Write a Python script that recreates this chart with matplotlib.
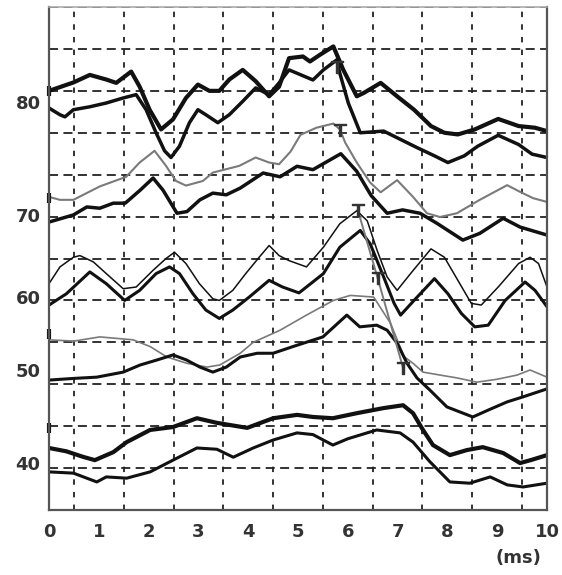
import matplotlib
matplotlib.use('Agg')
import matplotlib.pyplot as plt
import numpy as np

# trace data: x in ms, y in grid units (0-12)
a_x = [0, 0.49, 0.82, 1.15, 1.35, 1.65, 1.82, 2.02, 2.25, 2.49, 2.75, 2.99, 3.22, 3.42, 3.62, 3.89, 4.15, 4.42, 4.62, 4.82,
       5.1, 5.24, 5.44, 5.71, 5.91, 6.18, 6.32, 6.66, 6.99, 7.33, 7.67, 7.94, 8.21, 8.55, 9.02, 9.43, 9.76, 10.0]
a_y = [10.0, 10.2, 10.38, 10.27, 10.19, 10.46, 10.1, 9.55, 9.08, 9.32, 9.83, 10.15, 10.0, 10.0, 10.27, 10.5, 10.23, 9.87, 10.1, 10.78,
       10.82, 10.7, 10.86, 11.06, 10.5, 9.87, 9.95, 10.19, 9.87, 9.55, 9.16, 9.0, 8.96, 9.08, 9.33, 9.16, 9.12, 9.04]

b_x = [0, 0.22, 0.32, 0.49, 0.82, 1.15, 1.49, 1.75, 1.95, 2.15, 2.32, 2.45, 2.62, 2.82, 2.99, 3.15, 3.39, 3.62, 3.89, 4.15,
       4.42, 4.62, 4.82, 5.3, 5.51, 5.78, 5.84, 6.01, 6.25, 6.72, 7.06, 7.4, 7.74, 8.01, 8.34, 8.61, 9.02, 9.43, 9.7, 10.0]
b_y = [9.59, 9.43, 9.38, 9.55, 9.62, 9.71, 9.83, 9.91, 9.55, 9.0, 8.57, 8.41, 8.68, 9.24, 9.55, 9.43, 9.24, 9.43, 9.75, 10.07,
       9.91, 10.19, 10.5, 10.26, 10.5, 10.74, 10.42, 9.71, 9.0, 9.04, 8.84, 8.64, 8.45, 8.29, 8.45, 8.68, 8.94, 8.72, 8.49, 8.41]

c_x = [0, 0.22, 0.49, 1.02, 1.55, 1.82, 2.12, 2.35, 2.55, 2.75, 3.09, 3.29, 3.82, 4.15, 4.42, 4.62, 4.85, 5.05, 5.37, 5.71,
       5.84, 5.95, 6.18, 6.45, 6.66, 6.99, 7.31, 7.59, 7.85, 8.19, 8.65, 9.2, 9.46, 9.72, 10.0]
c_y = [7.47, 7.4, 7.4, 7.72, 7.95, 8.29, 8.57, 8.21, 7.85, 7.74, 7.85, 8.05, 8.21, 8.41, 8.29, 8.25, 8.55, 8.95, 9.12, 9.22,
       9.08, 8.76, 8.29, 7.81, 7.58, 7.87, 7.47, 7.08, 6.99, 7.08, 7.4, 7.75, 7.59, 7.44, 7.35]

d_x = [0, 0.49, 0.76, 1.02, 1.29, 1.53, 1.83, 2.09, 2.29, 2.57, 2.77, 3.03, 3.29, 3.56, 3.84, 4.3, 4.64, 4.98, 5.3, 5.86,
       6.18, 6.47, 6.79, 7.1, 7.45, 7.79, 8.31, 8.65, 9.12, 9.46, 10.0]
d_y = [6.87, 7.04, 7.23, 7.2, 7.32, 7.32, 7.63, 7.92, 7.63, 7.08, 7.12, 7.4, 7.56, 7.52, 7.68, 8.04, 7.95, 8.2, 8.12, 8.5,
       8.08, 7.5, 7.08, 7.16, 7.08, 6.84, 6.44, 6.6, 6.96, 6.75, 6.56]

e_x = [0, 0.22, 0.49, 0.62, 0.89, 1.15, 1.49, 1.75, 2.09, 2.35, 2.52, 2.75, 3.02, 3.29, 3.42, 3.69, 3.95, 4.22, 4.42, 4.62,
       4.82, 5.17, 5.51, 5.84, 6.18, 6.39, 6.59, 6.79, 6.99, 7.26, 7.67, 7.94, 8.21, 8.48, 8.68, 9.02, 9.43, 9.66, 9.83, 10.0]
e_y = [5.4, 5.8, 6.03, 6.07, 5.92, 5.64, 5.28, 5.32, 5.72, 6.0, 6.15, 5.88, 5.4, 5.04, 5.0, 5.24, 5.64, 6.03, 6.31, 6.07,
       5.95, 5.8, 6.27, 6.83, 7.14, 6.9, 6.19, 5.56, 5.24, 5.64, 6.23, 6.03, 5.48, 4.93, 4.89, 5.32, 5.88, 6.03, 5.88, 5.32]

f_x = [0, 0.35, 0.82, 1.15, 1.52, 1.82, 2.15, 2.42, 2.62, 2.89, 3.15, 3.42, 3.69, 4.02, 4.42, 4.69, 5.02, 5.51, 5.84, 6.25,
       6.45, 6.72, 6.93, 7.06, 7.33, 7.74, 8.01, 8.28, 8.55, 8.82, 9.16, 9.56, 9.76, 10.0]
f_y = [4.89, 5.16, 5.68, 5.4, 5.0, 5.24, 5.64, 5.8, 5.64, 5.16, 4.77, 4.57, 4.77, 5.08, 5.48, 5.32, 5.18, 5.64, 6.27, 6.67,
       6.35, 5.56, 4.93, 4.65, 5.0, 5.52, 5.16, 4.69, 4.37, 4.41, 5.0, 5.44, 5.24, 4.85]

g_x = [0, 0.5, 1.02, 1.69, 2.03, 2.37, 2.77, 3.17, 3.43, 3.84, 4.1, 4.64, 5.17, 5.71, 6.05, 6.52, 6.86, 7.13, 7.31, 7.51,
       7.85, 8.2, 8.59, 9.0, 9.4, 9.66, 10.0]
g_y = [4.06, 4.03, 4.13, 4.06, 3.9, 3.65, 3.5, 3.41, 3.46, 3.74, 4.0, 4.29, 4.65, 5.0, 5.12, 5.08, 4.45, 3.66, 3.5, 3.29,
       3.22, 3.15, 3.05, 3.12, 3.22, 3.34, 3.17]

h_x = [0, 0.5, 0.96, 1.49, 1.83, 2.17, 2.49, 2.76, 3.03, 3.29, 3.56, 3.84, 4.18, 4.5, 4.9, 5.5, 5.98, 6.24, 6.58, 6.79,
       6.99, 7.19, 7.39, 7.65, 7.99, 8.51, 8.85, 9.2, 9.52, 10.0]
h_y = [3.1, 3.14, 3.17, 3.29, 3.46, 3.58, 3.7, 3.58, 3.41, 3.29, 3.41, 3.65, 3.74, 3.74, 3.9, 4.13, 4.65, 4.37, 4.41, 4.29,
       3.98, 3.5, 3.15, 2.86, 2.46, 2.22, 2.4, 2.58, 2.7, 2.89]

i_x = [0, 0.35, 0.68, 0.92, 1.29, 1.56, 2.03, 2.49, 2.97, 3.37, 3.98, 4.5, 4.98, 5.3, 5.7, 6.18, 6.71, 7.11, 7.31, 7.51,
       7.71, 8.05, 8.39, 8.71, 9.12, 9.46, 9.7, 10.0]
i_y = [1.48, 1.4, 1.27, 1.19, 1.38, 1.62, 1.91, 1.98, 2.19, 2.08, 1.96, 2.19, 2.27, 2.22, 2.19, 2.31, 2.43, 2.5, 2.31, 1.91,
       1.55, 1.31, 1.43, 1.5, 1.36, 1.12, 1.2, 1.31]

j_x = [0, 0.49, 0.96, 1.15, 1.56, 2.03, 2.49, 2.97, 3.37, 3.7, 4.1, 4.5, 4.98, 5.3, 5.7, 6.0, 6.58, 7.05, 7.31, 7.65,
       8.05, 8.45, 8.86, 9.2, 9.52, 10.0]
j_y = [0.91, 0.88, 0.67, 0.79, 0.76, 0.91, 1.19, 1.48, 1.45, 1.26, 1.48, 1.67, 1.84, 1.8, 1.55, 1.7, 1.91, 1.84, 1.62, 1.15,
       0.67, 0.64, 0.79, 0.6, 0.55, 0.64]

# onset markers
mark_x = [5.78, 5.84, 6.2, 6.6, 7.11]
mark_y = [10.57, 9.07, 7.16, 5.53, 3.39]

# level labels on the y axis
level_pos = [9.73, 7.04, 5.08, 3.34, 1.12]
level_lab = ['80', '70', '60', '50', '40']
spine_marks = [10.0, 7.45, 4.2, 1.95]

black = '#111111'
gray = '#7a7a7a'

fig = plt.figure(figsize=(5.62, 5.75), dpi=100)
ax = fig.add_axes([0.0872, 0.113, 0.8861, 0.8748])

ax.plot(a_x, a_y, color=black, lw=3.0, solid_joinstyle='round')
ax.plot(b_x, b_y, color=black, lw=2.5, solid_joinstyle='round')
ax.plot(c_x, c_y, color=gray, lw=1.5)
ax.plot(d_x, d_y, color=black, lw=2.5, solid_joinstyle='round')
ax.plot(e_x, e_y, color=black, lw=1.1)
ax.plot(f_x, f_y, color=black, lw=2.2, solid_joinstyle='round')
ax.plot(g_x, g_y, color=gray, lw=1.2)
ax.plot(h_x, h_y, color=black, lw=2.2, solid_joinstyle='round')
ax.plot(i_x, i_y, color=black, lw=3.0, solid_joinstyle='round')
ax.plot(j_x, j_y, color=black, lw=2.2, solid_joinstyle='round')

# gray line linking the onsets + the small marks
ax.plot(mark_x[2:], mark_y[2:], color=gray, lw=1.4)
ax.plot(mark_x, mark_y, linestyle='none', marker=r'$\top$', ms=9, color='#333333')
ax.plot([0] * len(spine_marks), spine_marks, linestyle='none', marker='|', ms=7, mew=3,
        color=black, clip_on=False)

ax.set_xlim(0, 10)
ax.set_ylim(0, 12)

# dashed grid on minor ticks
ax.set_xticks(np.arange(0, 10.01, 0.5), minor=True)
ax.set_yticks(np.arange(0, 12.01, 1), minor=True)
ax.xaxis.grid(True, which='minor', color='#222222', linestyle=(0, (3, 4)), lw=1.3)
ax.yaxis.grid(True, which='minor', color='#222222', linestyle=(0, (5, 3)), lw=1.3)
ax.grid(False, which='major')

ax.set_xticks(range(0, 11))
ax.set_xticklabels([str(v) for v in range(0, 11)])
ax.set_yticks(level_pos)
ax.set_yticklabels(level_lab)
ax.tick_params(which='both', length=0)
ax.tick_params(axis='x', pad=9, labelsize=13, labelcolor='#333333')
ax.tick_params(axis='y', pad=6, labelsize=13, labelcolor='#333333')
for lab in ax.get_xticklabels() + ax.get_yticklabels():
    lab.set_fontweight('bold')

for side in ['left', 'bottom', 'right']:
    ax.spines[side].set_color('#555555')
    ax.spines[side].set_linewidth(1.6)
ax.spines['top'].set_color('#aaaaaa')
ax.spines['top'].set_linewidth(1.2)

fig.text(0.922, 0.03, '(ms)', ha='center', va='center', fontsize=13, fontweight='bold', color='#333333')

fig.savefig('out.png', dpi=100)
